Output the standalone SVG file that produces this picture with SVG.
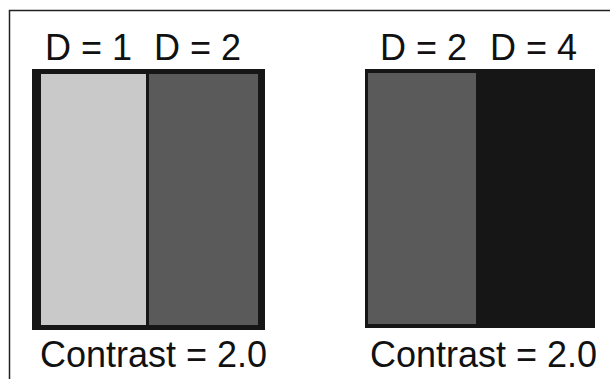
<svg xmlns="http://www.w3.org/2000/svg" width="610" height="379" viewBox="0 0 610 379">
  <style>
    .lbl { font-family: "Liberation Sans", Arial, sans-serif; font-size: 36px; fill: #111; }
    .frame { fill: none; stroke: #222; stroke-width: 1.5; }
  </style>
  <defs>
    <filter id="soft" x="-5%" y="-5%" width="110%" height="110%">
      <feGaussianBlur stdDeviation="0.6"/>
    </filter>
  </defs>
  <rect width="610" height="379" fill="#ffffff"/>
  <!-- outer frame, open to the right and bottom -->
  <path class="frame" d="M9.5 379 V10.5 H610"/>

  <!-- left pair: D = 1 and D = 2 -->
  <g id="pair-left" filter="url(#soft)">
    <rect x="32" y="69" width="233" height="261" fill="#161616"/>
    <rect x="41" y="74" width="105" height="251" fill="#c9c9c9"/>
    <rect x="149" y="74" width="109" height="251" fill="#5a5a5a"/>
  </g>
  <g id="labels-left">
    <text class="lbl" x="45" y="60">D = 1</text>
    <text class="lbl" x="154" y="60">D = 2</text>
    <text class="lbl" x="40" y="367">Contrast = 2.0</text>
  </g>

  <!-- right pair: D = 2 and D = 4 -->
  <g id="pair-right" filter="url(#soft)">
    <rect x="365" y="69" width="230" height="259" fill="#161616"/>
    <rect x="368" y="73" width="108" height="251" fill="#5a5a5a"/>
  </g>
  <g id="labels-right">
    <text class="lbl" x="380" y="60">D = 2</text>
    <text class="lbl" x="490" y="60">D = 4</text>
    <text class="lbl" x="370" y="367">Contrast = 2.0</text>
  </g>
</svg>
